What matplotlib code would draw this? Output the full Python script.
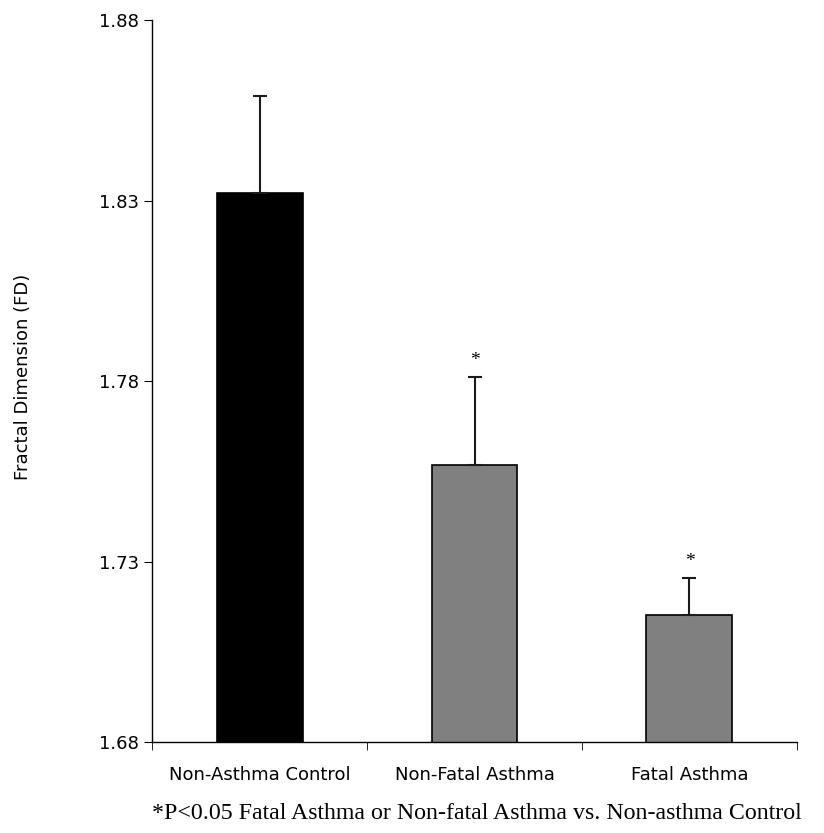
import matplotlib
matplotlib.use("Agg")
import matplotlib.pyplot as plt
import numpy as np

groups = ["Non-Asthma Control", "Non-Fatal Asthma", "Fatal Asthma"]
fd_mean = [1.832, 1.7567, 1.7152]
fd_err_up = [0.027, 0.0244, 0.0103]
sig_marks = ["", "*", "*"]
bar_colors = ["#000000", "#808080", "#808080"]
yticks = [1.68, 1.73, 1.78, 1.83, 1.88]

fig = plt.figure(figsize=(8.24, 8.33), dpi=100)
ax = fig.add_axes([0.1845, 0.1092, 0.7827, 0.8668])

x = np.arange(len(groups))
ax.bar(x, fd_mean, width=0.4, color=bar_colors, edgecolor="black",
       linewidth=1.2, zorder=2)
ax.errorbar(x, fd_mean, yerr=[np.zeros(len(x)), fd_err_up], fmt="none",
            ecolor="#1a1a1a", elinewidth=1.5, capsize=5, capthick=1.5, zorder=3)

for xi, m, e, s in zip(x, fd_mean, fd_err_up, sig_marks):
    if s:
        ax.text(xi, m + e + 0.0045, s, ha="center", va="center",
                fontsize=14, family="Liberation Serif")

ax.set_xlim(-0.5, len(groups) - 0.5)
ax.set_ylim(1.68, 1.88)
ax.set_yticks(yticks)
ax.set_yticklabels([f"{v:.2f}" for v in yticks], fontsize=13)
ax.set_xticks(x)
ax.set_xticklabels(groups, fontsize=13)
ax.tick_params(axis="x", which="major", length=0, pad=17)
ax.set_xticks(np.arange(len(groups) + 1) - 0.5, minor=True)
ax.tick_params(axis="x", which="minor", length=6, direction="out")
ax.tick_params(axis="y", length=6, direction="out")

for side in ("top", "right"):
    ax.spines[side].set_visible(False)
for side in ("left", "bottom"):
    ax.spines[side].set_linewidth(1.0)

fig.text(0.028, 0.547, "Fractal Dimension (FD)", rotation=90, ha="center",
         va="center", fontsize=13)
fig.text(0.184, 0.024,
         "*P<0.05 Fatal Asthma or Non-fatal Asthma vs. Non-asthma Control",
         ha="left", va="center", fontsize=17.2, family="Liberation Serif")

fig.savefig("out.png", dpi=100)
